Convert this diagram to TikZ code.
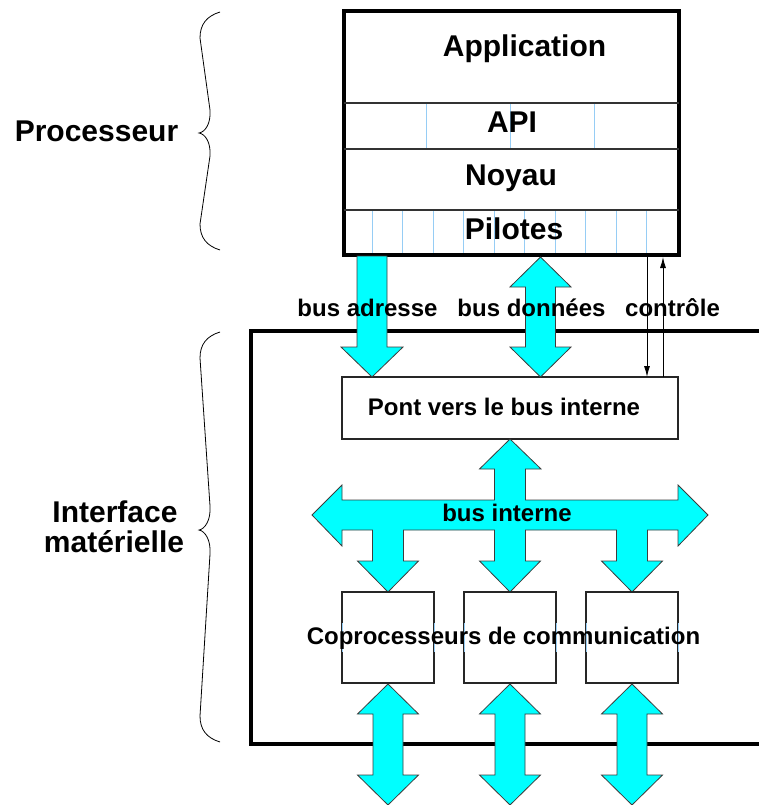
\documentclass[tikz,border=0pt]{standalone}
\usepackage{fontspec}
\setmainfont{Liberation Sans}
\usetikzlibrary{arrows.meta}
\definecolor{cyanfill}{RGB}{0,255,255}
\definecolor{lblue}{RGB}{150,205,245}
\definecolor{outl}{RGB}{60,60,60}
\newcommand\vdarrow[3]{%
  \draw[bus] (#1,#2) -- (#1+30.5,#2+30) -- (#1+15,#2+30) -- (#1+15,#3-30) -- (#1+30.5,#3-30)
    -- (#1,#3) -- (#1-30.5,#3-30) -- (#1-15,#3-30) -- (#1-15,#2+30) -- (#1-30.5,#2+30) -- cycle;}
\begin{document}
\begin{tikzpicture}[x=1pt,y=-1pt,
  big/.style={font=\fontsize{30}{33}\selectfont\bfseries, inner sep=0pt, anchor=base},
  small/.style={font=\fontsize{24}{28}\selectfont\bfseries, inner sep=0pt, anchor=base},
  thinbox/.style={draw=black!85, line width=1.2pt, fill=white, inner sep=0pt, outer sep=0pt},
  bus/.style={fill=cyanfill, draw=outl, line width=0.8pt, line join=miter},
  sepline/.style={line width=1.5pt, black!80},
  marks/.style={draw=lblue, line width=1pt},
  ctl/.style={line width=0.9pt, -{Latex[length=11pt,width=6pt]}},
  brace/.style={line width=0.8pt}]
\useasboundingbox (0,0) rectangle (758,805);

% interface box (open on the right)
\draw[line width=4pt] (760,331) -- (250.5,331) -- (250.5,744) -- (760,744);

% processor stack
\node[draw, line width=4pt, inner sep=0pt, outer sep=2pt, minimum width=335.2pt, minimum height=243.7pt] (proc) at (511.1,133.15) {};
\draw[sepline] (343.5,103) -- (678.7,103);
\draw[sepline] (343.5,149) -- (678.7,149);
\draw[sepline] (343.5,210) -- (678.7,210);
\foreach \x in {426,510,594} \draw[marks] (\x,104) -- (\x,148);
\foreach \k in {0,...,9} \draw[marks] ({372+30.55*\k},211) -- ({372+30.55*\k},253);
\node[big] (app) at (524.5,57) {Application};
\node[big] (api) at (512,132.7) {API};
\node[big] (noyau) at (511,185.7) {Noyau};
\node[big] (pil) at (514,239.3) {Pilotes};

% bridge
\node[thinbox, minimum width=336pt, minimum height=62pt] (pont) at (510,408) {};
\node[small] (ponttxt) at (504,415.7) {Pont vers le bus interne};

% control lines
\coordinate (c1) at (647,0);
\coordinate (c2) at (663,0);
\draw[ctl] (proc.south -| c1) -- (pont.north -| c1);
\draw[ctl] (pont.north -| c2) -- (proc.south -| c2);

% bus adresse
\draw[bus] (357,256) -- (387,256) -- (387,347) -- (403,347) -- (372,377) -- (341,347) -- (357,347) -- cycle;
% bus donnees
\vdarrow{540.5}{257}{377}

% bus interne
\draw[bus] (510,439) -- (541,469) -- (525.5,469) -- (525.5,500) -- (678,500) -- (678,485) -- (708,515)
  -- (678,546) -- (678,530) -- (647.5,530) -- (647.5,561) -- (662.5,561) -- (632,592) -- (601.5,561)
  -- (616.5,561) -- (616.5,530) -- (525.5,530) -- (525.5,561) -- (540.5,561) -- (510,592) -- (479.5,561)
  -- (494.5,561) -- (494.5,530) -- (403.5,530) -- (403.5,561) -- (418.5,561) -- (388,592) -- (357.5,561)
  -- (372.5,561) -- (372.5,530) -- (342,530) -- (342,546) -- (312,515) -- (342,485) -- (342,500)
  -- (494.5,500) -- (494.5,469) -- (479.5,469) -- cycle;

% coprocessors
\node[thinbox, minimum width=92pt, minimum height=91pt] (cp1) at (388,637.5) {};
\node[thinbox, minimum width=92pt, minimum height=91pt] (cp2) at (510,637.5) {};
\node[thinbox, minimum width=92pt, minimum height=91pt] (cp3) at (632,637.5) {};
\foreach \x in {342,434,464,556,586,678} \draw[marks] (\x,623) -- (\x,652);

% external links
\vdarrow{388}{684}{805}
\vdarrow{510}{684}{805}
\vdarrow{632}{684}{805}

% labels
\node[small] (ba) at (367.5,316.5) {bus adresse};
\node[small] (bd) at (531.5,316.5) {bus données};
\node[small] (ct) at (672.5,316.5) {contrôle};
\node[small] (bi) at (507,521.7) {bus interne};
\node[small] (cpt) at (503.5,644) {Coprocesseurs de communication};

% left braces and titles
\draw[brace] (220,12) .. controls (207,16) and (200,24) .. (200,38) -- (210,110)
  .. controls (211,124) and (205,132) .. (199,133) .. controls (205,134) and (211,142) .. (210,156)
  -- (200,224) .. controls (200,238) and (207,246) .. (220,250);
\node[big] (procl) at (96.5,142) {Processeur};
\draw[brace] (220,332) .. controls (207,336) and (200,344) .. (200,358) -- (210,506)
  .. controls (211,520) and (205,529) .. (199,530) .. controls (205,531) and (211,540) .. (210,554)
  -- (200,716) .. controls (200,730) and (207,738) .. (220,742);
\node[big] (ifl1) at (115,522) {Interface};
\node[big] (ifl2) at (114,552) {matérielle};
\end{tikzpicture}
\end{document}
